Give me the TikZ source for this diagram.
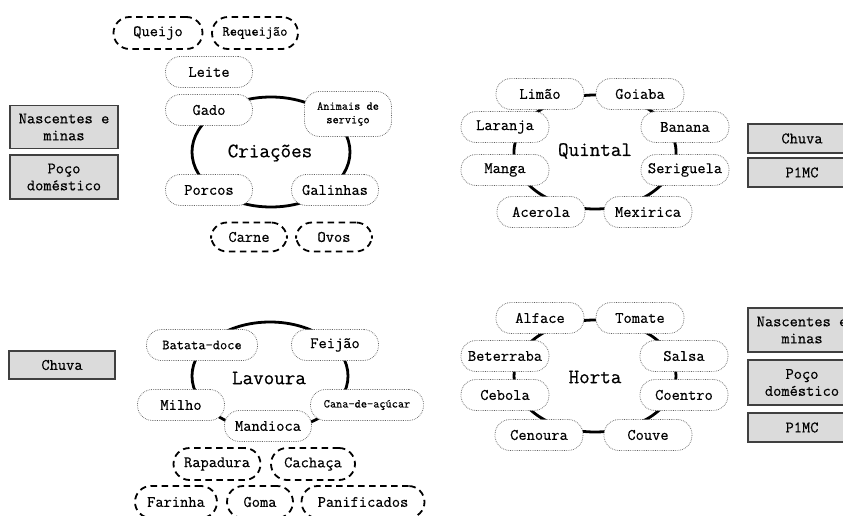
\documentclass[tikz,border=0pt]{standalone}
\usepackage{fontspec}
\newfontfamily\dgMono{Latin Modern Mono}[FakeBold=0.5]
\newcommand\dgItemFont{\fontsize{16}{17}\selectfont\dgMono}
\newcommand\dgSmallFont{\fontsize{14}{15}\selectfont\dgMono}
\newcommand\dgTinyFont{\fontsize{12}{13.5}\selectfont\dgMono}
\newcommand\dgHubFont{\fontsize{20.5}{22}\selectfont\dgMono}
\begin{document}
\begin{tikzpicture}[x=1pt,y=-1pt,
  ring/.style={line width=2.8pt, draw=black},
  item/.style={draw=gray!75!black, dash pattern=on 0.7pt off 1.1pt, line width=0.75pt,
    fill=white, rounded corners=15pt, minimum height=31pt, minimum width=88pt,
    inner xsep=6pt, font=\dgItemFont},
  product/.style={draw=black, dash pattern=on 6.5pt off 4.5pt, line width=1.8pt,
    fill=white, rounded corners=16pt, minimum height=32pt, minimum width=76pt,
    inner xsep=13pt, font=\dgItemFont},
  source/.style={draw=black!75, line width=1.6pt, fill=gray!28, minimum width=108pt,
    minimum height=29pt, align=center, font=\dgItemFont, inner sep=2pt},
  hub/.style={font=\dgHubFont, inner sep=0pt}
]
\useasboundingbox (0,0) rectangle (843,516);

% ---------------- Criações ----------------
\coordinate (cC) at (271,152);
\draw[ring] (cC) ellipse [x radius=79pt, y radius=55pt];
\node[hub] (criacoes) at (270,153) {Criações};
\node[item, minimum width=87pt] (gado) at (209,110) {Gado};
\node[item, minimum width=87pt] (leite) at (209,72) {Leite};
\node[item, minimum width=87pt, minimum height=45pt, font=\dgTinyFont, align=center] (animais) at (348,114) {Animais de\\serviço};
\node[item, minimum width=87pt] (porcos) at (209,190) {Porcos};
\node[item, minimum width=87pt] (galinhas) at (335,190) {Galinhas};
\node[product, minimum width=89pt] (queijo) at (158,33) {Queijo};
\node[product, minimum width=86pt, inner xsep=6pt, font=\dgSmallFont] (requeijao) at (255,33) {Requeijão};
\node[product, minimum height=29pt] (carne) at (249,237) {Carne};
\node[product, minimum height=29pt] (ovos) at (334,237) {Ovos};

\node[source, minimum height=43pt] (nascentesA) at (64,127) {Nascentes e\\minas};
\node[source, minimum height=44pt] (pocoA) at (64,177) {Poço\\doméstico};

% ---------------- Quintal ----------------
\coordinate (cQ) at (595,152);
\draw[ring] (cQ) ellipse [x radius=81pt, y radius=57pt];
\node[hub] (quintal) at (595,151) {Quintal};
\node[item] (limao) at (540,94) {Limão};
\node[item] (goiaba) at (640,94) {Goiaba};
\node[item] (laranja) at (505,127) {Laranja};
\node[item] (banana) at (685,127) {Banana};
\node[item] (manga) at (505,170) {Manga};
\node[item] (seriguela) at (685,170) {Seriguela};
\node[item] (acerola) at (541,212) {Acerola};
\node[item] (mexirica) at (648,212) {Mexirica};

\node[source] (chuvaA) at (802,138.5) {Chuva};
\node[source] (pimcA) at (802,172.5) {P1MC};

% ---------------- Lavoura ----------------
\coordinate (cL) at (270,376);
\draw[ring] (cL) ellipse [x radius=78pt, y radius=54pt];
\node[hub] (lavoura) at (269,378) {Lavoura};
\node[item, minimum width=111pt, font=\dgSmallFont] (batata) at (202,345) {Batata-doce};
\node[item, minimum width=87pt] (feijao) at (335,345) {Feijão};
\node[item, minimum width=87pt] (milho) at (181,405) {Milho};
\node[item, minimum width=113pt, font=\dgTinyFont] (cana) at (367,405) {Cana-de-açúcar};
\node[item, minimum width=87pt] (mandioca) at (268,426) {Mandioca};
\node[product, minimum width=87pt, inner xsep=8pt] (rapadura) at (217,464) {Rapadura};
\node[product, minimum width=84pt, inner xsep=8pt] (cachaca) at (313,464) {Cachaça};
\node[product, minimum width=82pt, inner xsep=8pt] (farinha) at (176,502) {Farinha};
\node[product, minimum width=66pt] (goma) at (260,502) {Goma};
\node[product, minimum width=123pt] (panificados) at (363,502) {Panificados};

\node[source, minimum width=106pt, minimum height=28pt] (chuvaB) at (62,365) {Chuva};

% ---------------- Horta ----------------
\coordinate (cH) at (595,376);
\draw[ring] (cH) ellipse [x radius=81pt, y radius=56pt];
\node[hub] (horta) at (595,377) {Horta};
\node[item] (alface) at (540,318) {Alface};
\node[item] (tomate) at (640,318) {Tomate};
\node[item] (beterraba) at (505,356) {Beterraba};
\node[item] (salsa) at (684,356) {Salsa};
\node[item] (cebola) at (505,395) {Cebola};
\node[item] (coentro) at (684,395) {Coentro};
\node[item] (cenoura) at (539,435) {Cenoura};
\node[item] (couve) at (648,435) {Couve};

\node[source, minimum height=44pt] (nascentesB) at (802,330) {Nascentes e\\minas};
\node[source, minimum height=45pt] (pocoB) at (802,382.5) {Poço\\doméstico};
\node[source] (pimcB) at (802,427.5) {P1MC};
\end{tikzpicture}
\end{document}
